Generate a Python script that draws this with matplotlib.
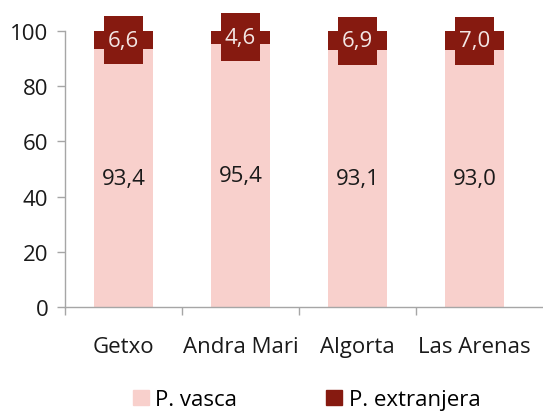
import numpy as np
import matplotlib.pyplot as plt
from matplotlib.patches import Patch

zonas = ['Getxo', 'Andra Mari', 'Algorta', 'Las Arenas']
p_vasca = [93.4, 95.4, 93.1, 93.0]
p_extranjera = [6.6, 4.6, 6.9, 7.0]
y_ticks = [0, 20, 40, 60, 80, 100]

rosa = '#f8d0cc'
granate = '#861a10'
gris = '#a6a6a6'

plt.rcParams['font.family'] = ['Open Sans', 'DejaVu Sans']

fig = plt.figure(figsize=(5.43, 4.14), dpi=100)
ax = fig.add_axes([0.1197, 0.256, 0.8803, 0.6667])

x = np.arange(len(zonas))
vasca = np.array(p_vasca)
extr = np.array(p_extranjera)

ax.bar(x, vasca, width=0.5, color=rosa, zorder=2)
ax.bar(x, extr, bottom=vasca, width=0.5, color=granate, zorder=2, clip_on=False)

# cajas de etiqueta de la poblacion extranjera
mid = vasca + extr / 2
caja_h = 17.4
ax.bar(x, caja_h, bottom=mid - caja_h / 2, width=0.333, color=granate,
       zorder=3, clip_on=False)

for xi, v, e, m in zip(x, vasca, extr, mid):
    ax.text(xi, v / 2, f'{v:.1f}'.replace('.', ','), ha='center', va='center',
            fontsize=16, color='#1a1a1a', zorder=4)
    ax.text(xi, m, f'{e:.1f}'.replace('.', ','), ha='center', va='center',
            fontsize=16, color='#f3e6e4', zorder=4, clip_on=False)

ax.set_ylim(0, 100)
ax.set_xlim(-0.5, 3.585)
ax.set_yticks(y_ticks)
ax.set_yticklabels([str(t) for t in y_ticks], fontsize=16, color='#1a1a1a')
ax.set_xticks(x)
ax.set_xticklabels(zonas, fontsize=16, color='#1a1a1a')
ax.set_xticks(np.arange(len(zonas)) - 0.5, minor=True)
ax.tick_params(axis='x', which='major', length=0, pad=21)
ax.tick_params(axis='x', which='minor', length=6, color=gris, width=1)
ax.tick_params(axis='y', length=6, color=gris, width=1, pad=6)

for s in ['top', 'right']:
    ax.spines[s].set_visible(False)
for s in ['left', 'bottom']:
    ax.spines[s].set_color(gris)
    ax.spines[s].set_linewidth(1)

handles = [Patch(color=rosa, label='P. vasca'), Patch(color=granate, label='P. extranjera')]
fig.legend(handles=handles, loc='center', bbox_to_anchor=(0.565, 0.032), ncol=2,
           frameon=False, fontsize=16, handlelength=0.72, handleheight=0.72,
           handletextpad=0.3, columnspacing=4.0)

fig.savefig('out.png', dpi=100)
